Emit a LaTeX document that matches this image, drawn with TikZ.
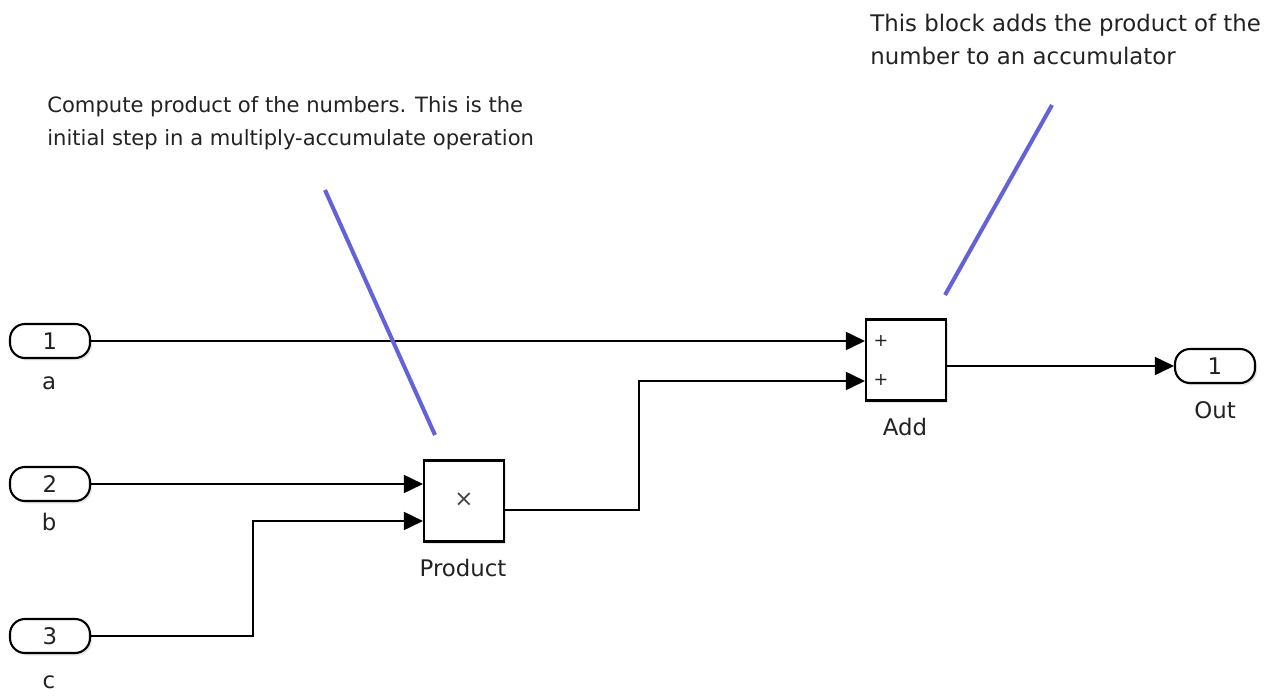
\documentclass[tikz,border=0pt]{standalone}
\usepackage{fontspec}
\setmainfont{DejaVu Sans}
\usepackage{xcolor}
\usetikzlibrary{arrows.meta,shadows,calc}
\definecolor{notecolor}{RGB}{98,98,218}
\definecolor{textgrey}{RGB}{34,34,34}

\begin{document}
\begin{tikzpicture}[x=0.02cm,y=-0.02cm,
    font=\fontsize{13}{18.7}\selectfont, text=textgrey,
    port/.style={draw,line width=1.2pt,rounded corners=0.3cm,fill=white,
        minimum width=1.6cm,minimum height=0.68cm,inner sep=0pt,
        drop shadow={opacity=0.2,shadow xshift=0.04cm,shadow yshift=-0.05cm}},
    block/.style={draw,line width=1.2pt,fill=white,
        minimum width=1.6cm,minimum height=1.62cm,inner sep=0pt,
        drop shadow={opacity=0.2,shadow xshift=0.04cm,shadow yshift=-0.05cm}},
    sig/.style={line width=1pt,-{Triangle[length=0.38cm,width=0.36cm]}},
    note/.style={notecolor,line width=2.3pt}]
    \useasboundingbox (0,0) rectangle (1278,696);
    % Inports
    \node[port] (in1) at (50,341) {1};
    \node[port] (in2) at (50,484) {2};
    \node[port] (in3) at (50,636) {3};
    \node (la) at (49,383) {a};
    \node (lb) at (49,522) {b};
    \node (lc) at (49,682) {c};
    % Blocks
    \node[block] (prod) at (464,501) {};
    \node[textgrey!85] (prodsign) at (464,500) {×};
    \node (prodlbl) at (463,568) {Product};
    \node[block] (add) at (906,360) {};
    \node[font=\fontsize{10}{12}\selectfont] (plus1) at (881,341) {+};
    \node[font=\fontsize{10}{12}\selectfont] (plus2) at (881,380) {+};
    \node (addlbl) at (905,427) {Add};
    % Outport
    \node[port] (out) at (1215,366) {1};
    \node (outlbl) at (1215,410) {Out};
    % Signals
    \draw[sig] (in1.east) -- (in1.east -| add.west);
    \draw[sig] (in2.east) -- (in2.east -| prod.west);
    \draw[sig] (in3.east) -- ++(162,0) |- ($(prod.west)+(0,20)$);
    \draw[sig] ($(prod.east)+(0,9)$) -- ++(134,0) |- ($(add.west)+(0,21)$);
    \draw[sig] (out.west -| add.east) -- (out.west);
    % Annotations
    \node[anchor=north west,align=left,inner sep=0pt,font=\fontsize{12}{18.7}\selectfont]
        (note1) at (47,96)
        {Compute product of the numbers. This is the\\initial step in a multiply-accumulate operation};
    \node[anchor=north west,align=left,inner sep=0pt] (note2) at (870,14)
        {This block adds the product of the\\number to an accumulator};
    \coordinate (n1top) at (325,190);
    \coordinate (n1end) at (435,435);
    \coordinate (n2top) at (1052,105);
    \coordinate (n2end) at (945,295);
    \draw[note] (n1top) -- (n1end);
    \draw[note] (n2top) -- (n2end);
\end{tikzpicture}
\end{document}
